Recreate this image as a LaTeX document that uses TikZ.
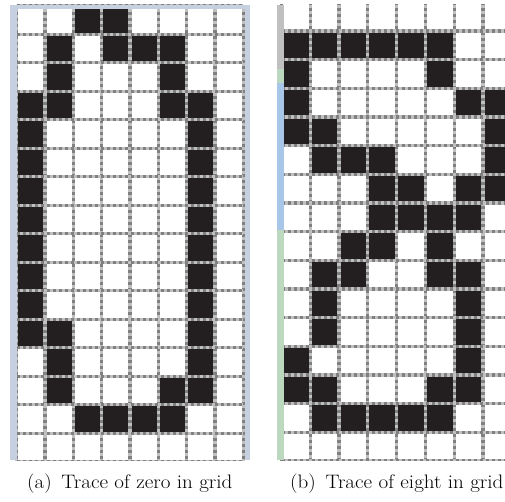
\documentclass[tikz,border=0pt]{standalone}
\usepackage{fontspec}
\definecolor{cellblack}{HTML}{231F20}
\definecolor{gridlight}{HTML}{C0C0C0}
\definecolor{griddark}{HTML}{808080}
\definecolor{frameblue}{HTML}{C6D0E0}
\definecolor{stripgray}{HTML}{C0C0C0}
\definecolor{stripgreen}{HTML}{BCD9BF}
\definecolor{stripblue}{HTML}{A8C6E8}
\tikzset{
  cellfill/.style={fill=cellblack},
  gridbase/.style={draw=gridlight, line width=3.2pt},
  griddash/.style={draw=griddark, line width=3.2pt, dash pattern=on 3pt off 3pt},
  captext/.style={anchor=base west, inner sep=0pt, font=\fontsize{19.5}{21}\selectfont},
}
\begin{document}
\begin{tikzpicture}[x=1pt,y=-1pt]
\useasboundingbox (0,0) rectangle (505,502);
% ---------- left grid: trace of zero ----------
\begin{scope}
\clip (10,5) rectangle (250,460);
\begin{scope}[shift={(16.7pt,-5.8pt)}, x=28.33pt, y=-28.5pt]
\foreach \c/\r in {3/1,4/1, 2/2,4/2,5/2,6/2, 2/3,6/3, 1/4,2/4,6/4,7/4,
  1/5,7/5, 1/6,7/6, 1/7,7/7, 1/8,7/8, 1/9,7/9, 1/10,7/10, 1/11,7/11,
  1/12,2/12,7/12, 2/13,7/13, 2/14,6/14,7/14, 3/15,4/15,5/15,6/15}
  \fill[cellfill] (\c-1,\r-1) rectangle (\c,\r);
\foreach \k in {0,...,8} {
  \draw[gridbase] (\k,0) -- (\k,16);
  \draw[griddash] (\k,0) -- (\k,16);
}
\foreach \k in {0,...,16} {
  \draw[gridbase] (0,\k) -- (8,\k);
  \draw[griddash] (0,\k) -- (8,\k);
}
\end{scope}
\end{scope}
\fill[frameblue] (10,5) rectangle (17.3,460);
\fill[frameblue] (10,5) rectangle (250,9);
\fill[frameblue] (245.2,5) rectangle (250,460);
% ---------- right grid: trace of eight ----------
\begin{scope}
\clip (277,5) rectangle (505,460);
\begin{scope}[shift={(281.5pt,-2.4pt)}, x=28.78pt, y=-28.66pt]
\foreach \c/\r in {1/2,2/2,3/2,4/2,5/2,6/2, 1/3,6/3, 1/4,7/4,8/4, 1/5,2/5,8/5,
  2/6,3/6,4/6,8/6, 4/7,5/7,7/7,8/7, 4/8,5/8,6/8,7/8, 3/9,4/9,6/9,
  2/10,3/10,6/10,7/10, 2/11,7/11, 2/12,7/12, 1/13,7/13, 1/14,2/14,6/14,7/14,
  2/15,3/15,4/15,5/15,6/15}
  \fill[cellfill] (\c-1,\r-1) rectangle (\c,\r);
\foreach \k in {0,...,8} {
  \draw[gridbase] (\k,0) -- (\k,16);
  \draw[griddash] (\k,0) -- (\k,16);
}
\foreach \k in {0,...,16} {
  \draw[gridbase] (0,\k) -- (8,\k);
  \draw[griddash] (0,\k) -- (8,\k);
}
\end{scope}
\end{scope}
\fill[stripgray] (277,5) rectangle (284,69);
\fill[stripgreen] (277,69) rectangle (284,83);
\fill[stripblue] (277,83) rectangle (284,230);
\fill[stripgreen] (277,230) rectangle (284,460);
% ---------- captions ----------
\node[captext] (capa) at (27,488) {\scalebox{1.08}[1]{(a)\hspace{9pt}Trace of zero in grid}};
\node[captext] (capb) at (290,488) {\scalebox{1.08}[1]{(b)\hspace{9pt}Trace of eight in grid}};
\end{tikzpicture}
\end{document}
